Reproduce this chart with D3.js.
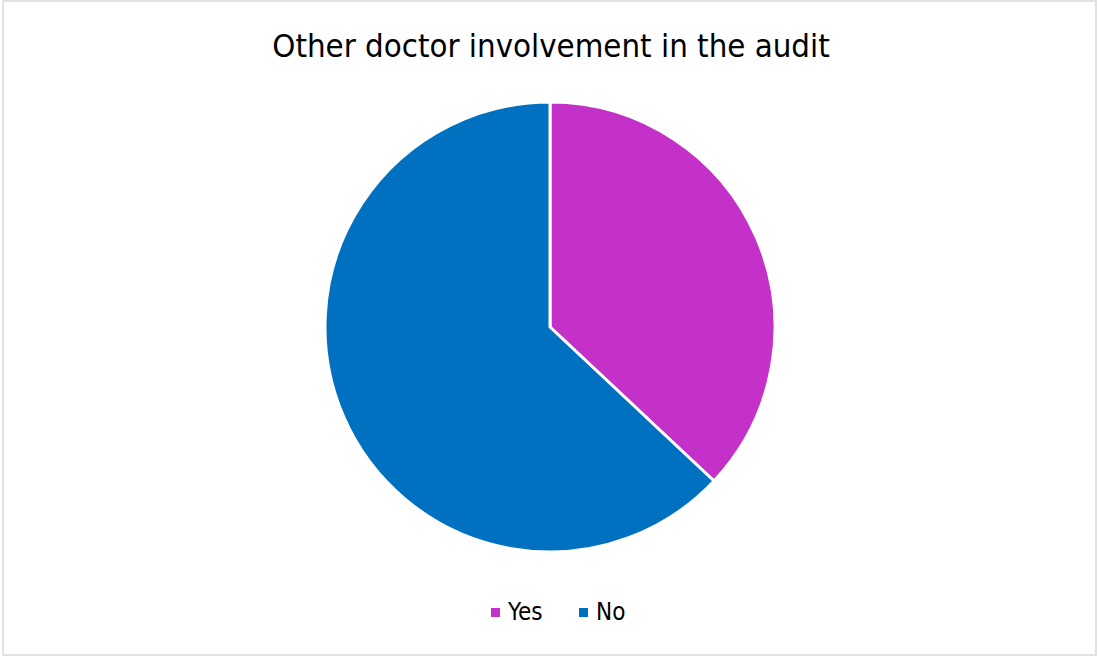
<!DOCTYPE html>
<html lang="en">
<head>
    <meta charset="UTF-8">
    <title>Other doctor involvement in the audit</title>
    <style>
        body {
            margin: 0;
            padding: 0;
            background-color: #ffffff;
            font-family: 'DejaVu Sans Condensed', 'DejaVu Sans', sans-serif;
        }
    </style>
</head>
<body>
    <svg width="1098" height="657"></svg>
    <script src="https://d3js.org/d3.v7.min.js"></script>
    <script>
        const categories = ["Yes", "No"];
        const values = [37, 63];
        const colors = ["#c431c9", "#0070c0"];

        const svg = d3.select("svg");

        // chart border
        svg.append("rect")
            .attr("x", 3).attr("y", 1)
            .attr("width", 1093).attr("height", 654)
            .attr("fill", "#ffffff")
            .attr("stroke", "#d9d9d9")
            .attr("stroke-width", 1.5);

        svg.append("text")
            .attr("x", 551)
            .attr("y", 57)
            .attr("text-anchor", "middle")
            .attr("font-size", "32.7px")
            .attr("fill", "#000000")
            .text("Other doctor involvement in the audit");

        const data = categories.map((c, i) => ({name: c, value: values[i]}));
        const pie = d3.pie().sort(null).value(d => d.value);
        const arc = d3.arc().innerRadius(0).outerRadius(225);
        const color = d3.scaleOrdinal().domain(categories).range(colors);

        const g = svg.append("g").attr("transform", "translate(550,327)");
        g.selectAll("path")
            .data(pie(data))
            .enter()
            .append("path")
            .attr("d", arc)
            .attr("fill", d => color(d.data.name))
            .attr("stroke", "#ffffff")
            .attr("stroke-width", 3)
            .attr("stroke-linejoin", "round");

        // legend
        const legendX = [491, 579];
        const items = svg.append("g").selectAll("g")
            .data(categories)
            .enter()
            .append("g")
            .attr("transform", (d, i) => `translate(${legendX[i]},608)`);
        items.append("rect")
            .attr("width", 9).attr("height", 9)
            .attr("fill", d => color(d));
        items.append("text")
            .attr("x", 17)
            .attr("y", 12)
            .attr("font-size", "24px")
            .attr("fill", "#000000")
            .text(d => d);
    </script>
</body>
</html>
